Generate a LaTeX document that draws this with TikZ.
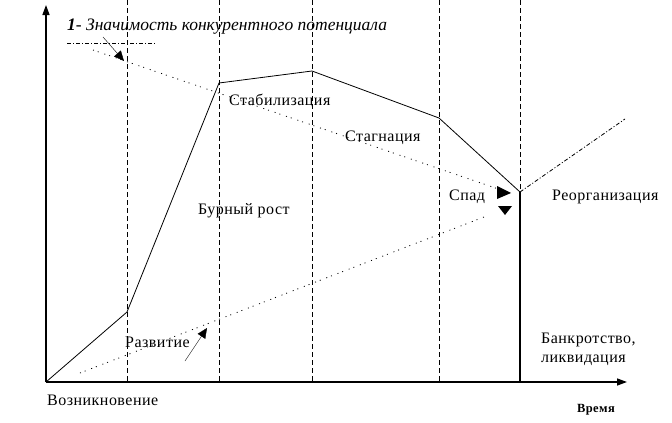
\documentclass[tikz,border=0pt]{standalone}
\usepackage{fontspec}
\setmainfont{Liberation Serif}[LetterSpace=3]
\newfontfamily\kursiv{Liberation Serif}
\usetikzlibrary{arrows.meta}

\begin{document}
\begin{tikzpicture}[
    x=1pt, y=-1pt,
    os/.style = {line width=1.3pt, -{Triangle[length=10pt,width=7pt]}},
    faza/.style = {dash pattern=on 5pt off 3pt, line width=0.8pt},
    krivaya/.style = {line width=0.8pt},
    tochki/.style = {dash pattern=on 1pt off 4pt on 1pt off 6pt, line width=0.8pt},
    pil/.style = {-{Triangle[length=10pt,width=9pt]}},
    metka/.style = {font=\fontsize{16}{19}\selectfont, inner sep=0pt, anchor=west},
    ]
  \useasboundingbox (0,0) rectangle (672,423);

  % axes
  \coordinate (O) at (46,382);
  \coordinate (Ytop) at (46,5);
  \coordinate (Xend) at (627,382);
  \draw[os] (O) -- (Ytop);
  \draw[os] (O) -- (Xend);

  % phase borders
  \foreach \xx in {127,219,312,439}
    \draw[faza] (\xx,0) -- (\xx,382);
  \draw[faza] (520,0) -- (520,192);
  \draw[krivaya, line width=1.1pt] (520,192) -- (520,382);

  % life cycle curve
  \coordinate (A) at (127,312);
  \coordinate (B) at (219,83);
  \coordinate (C) at (312,71);
  \coordinate (D) at (439,118);
  \coordinate (E) at (520,192);
  \coordinate (R) at (625,119);
  \draw[krivaya] (O) -- (A) -- (B) -- (C) -- (D) -- (E);
  \draw[krivaya, dash pattern=on 4pt off 2pt on 1pt off 2pt] (E) -- (R);

  % competitive potential
  \coordinate (P1) at (93,50);
  \coordinate (P2) at (510,193);
  \coordinate (Q1) at (80,373);
  \coordinate (Q2) at (484,217);
  \draw[tochki] (P1) -- (P2);
  \draw[tochki] (Q1) -- (Q2);
  \fill (497,186) -- (511,193) -- (497,199) -- cycle;
  \fill (498,206) -- (512,206) -- (505,215) -- cycle;

  % labels
  \node[metka, font=\fontsize{17.5}{20}\kursiv] (znach) at (67,27) {\textit{\textbf{1}- Значимость конкурентного потенциала}};
  \draw[krivaya, dash pattern=on 4pt off 2pt on 1pt off 2pt] (67,43) -- (155,43);
  \draw[pil] (103,37) -- (124,61);

  \node[metka] (stab) at (229,101) {Стабилизация};
  \node[metka] (stag) at (345,138) {Стагнация};
  \node[metka] (rost) at (198,211) {Бурный рост};
  \node[metka] (spad) at (449,197) {Спад};
  \node[metka] (reorg) at (552,197) {Реорганизация};
  \node[metka] (razv) at (125,342) {Развитие};
  \draw[pil] (185,361) -- (207,328);
  \node[metka, align=left] (bankr) at (541,349.5) {Банкротство,\\[0pt]ликвидация};
  \node[metka] (vozn) at (47,400) {Возникновение};
  \node[metka, font=\fontsize{12.5}{15}\selectfont\bfseries] (vremya) at (577,410) {Время};
\end{tikzpicture}
\end{document}
